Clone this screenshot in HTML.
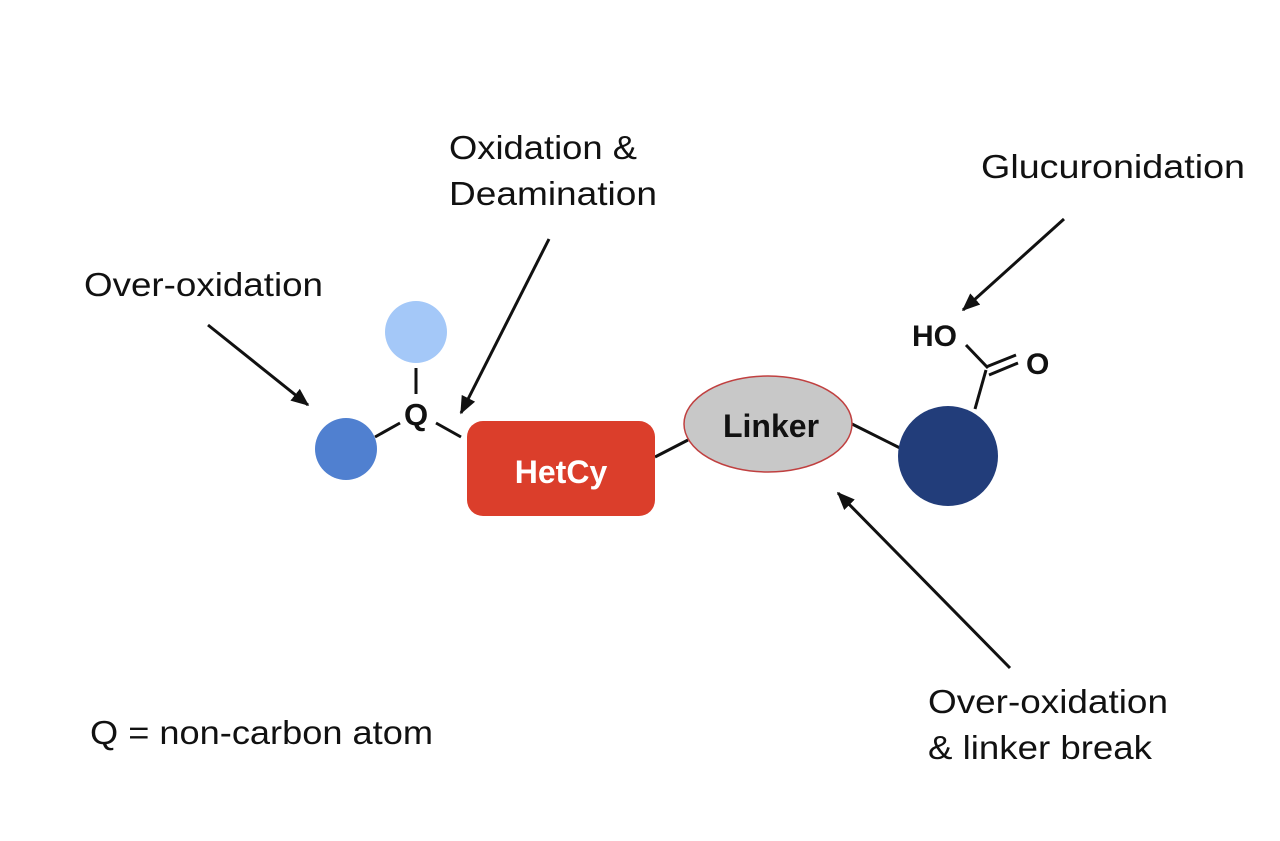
<!DOCTYPE html>
<html><head><meta charset="utf-8"><style>
html,body{margin:0;padding:0;background:#fff;}
svg{display:block;}
text{font-family:"Liberation Sans",sans-serif;fill:#111;}
</style></head><body>
<svg width="1280" height="841" viewBox="0 0 1280 841" xmlns="http://www.w3.org/2000/svg">
<defs>
<marker id="a" viewBox="0 0 12 10" refX="11" refY="5" markerWidth="18" markerHeight="15" orient="auto" markerUnits="userSpaceOnUse"><path d="M0,0 L12,5 L0,10 z" fill="#111"/></marker>
</defs>
<g font-size="33">
<text x="449" y="159" textLength="188" lengthAdjust="spacingAndGlyphs">Oxidation &amp;</text>
<text x="449" y="205" textLength="208" lengthAdjust="spacingAndGlyphs">Deamination</text>
<text x="84" y="296" textLength="239" lengthAdjust="spacingAndGlyphs">Over-oxidation</text>
<text x="981" y="178" textLength="264" lengthAdjust="spacingAndGlyphs">Glucuronidation</text>
<text x="928" y="713" textLength="240" lengthAdjust="spacingAndGlyphs">Over-oxidation</text>
<text x="928" y="759" textLength="224" lengthAdjust="spacingAndGlyphs">&amp; linker break</text>
<text x="90" y="744" textLength="343" lengthAdjust="spacingAndGlyphs">Q = non-carbon atom</text>
</g>
<g stroke="#111" stroke-width="3" fill="none">
<line x1="208" y1="325" x2="308" y2="405" marker-end="url(#a)"/>
<line x1="549" y1="239" x2="461" y2="413" marker-end="url(#a)"/>
<line x1="1064" y1="219" x2="963" y2="310" marker-end="url(#a)"/>
<line x1="1010" y1="668" x2="838" y2="493" marker-end="url(#a)"/>
<line x1="416" y1="368" x2="416" y2="394"/>
<line x1="375" y1="437" x2="400" y2="423"/>
<line x1="436" y1="423" x2="461" y2="437"/>
<line x1="655" y1="457" x2="688" y2="440"/>
<line x1="852" y1="424" x2="900" y2="448"/>
<line x1="975" y1="409" x2="986" y2="370"/>
<line x1="966" y1="345" x2="988" y2="368"/>
<line x1="986" y1="367" x2="1016" y2="355"/>
<line x1="989" y1="375" x2="1018" y2="363"/>
</g>
<circle cx="416" cy="332" r="31" fill="#a4c8f8"/>
<circle cx="346" cy="449" r="31" fill="#5080d0"/>
<circle cx="948" cy="456" r="50" fill="#223d7a"/>
<rect x="467" y="421" width="188" height="95" rx="16" fill="#db3e2b"/>
<ellipse cx="768" cy="424" rx="84" ry="48" fill="#c8c8c8" stroke="#c04040" stroke-width="1.5"/>
<g font-weight="bold">
<text x="416" y="425" font-size="31" text-anchor="middle">Q</text>
<text x="561" y="483" font-size="32" text-anchor="middle" style="fill:#fff">HetCy</text>
<text x="771" y="437" font-size="32" text-anchor="middle">Linker</text>
<text x="912" y="346" font-size="30">HO</text>
<text x="1026" y="374" font-size="30">O</text>
</g>
</svg>
</body></html>
